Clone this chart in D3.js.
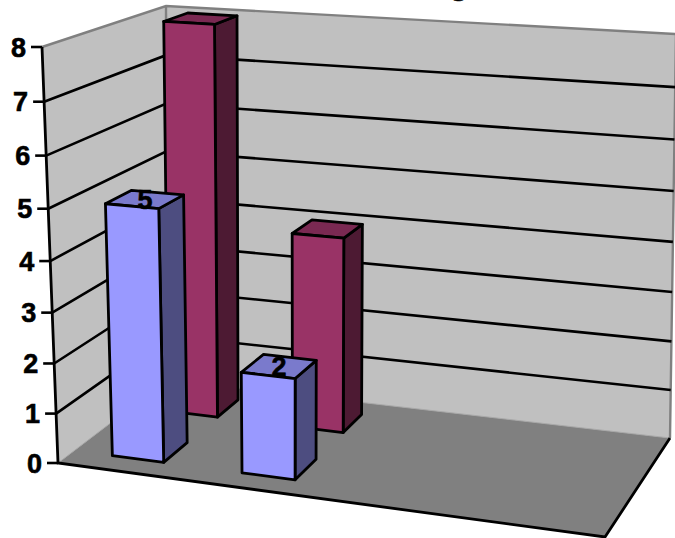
<!DOCTYPE html>
<html>
<head>
<meta charset="utf-8">
<style>
  html, body { margin: 0; padding: 0; background: #fff; overflow: hidden; }
  svg { display: block; }
  text { font-family: "Liberation Sans", Arial, sans-serif; font-weight: bold; fill: #000; stroke: #000; stroke-width: 0.6; }
</style>
<script src="https://cdnjs.cloudflare.com/ajax/libs/d3/7.8.5/d3.min.js"></script>
</head>
<body>
<div id="chart"></div>
<script>
// Data. The category names are not shown in the chart.
const categories = ['c1', 'c2', 'c3', 'c4'];
const seriesNames = ['front', 'back'];
const frontValues = [5, 2, null, null];
const backValues = [8, 4, null, null];
const valueTicks = [0, 1, 2, 3, 4, 5, 6, 7, 8];

const WIDTH = 675, HEIGHT = 538;

// Screen position of the eight corners of the plot box: [across, depth, up]
const CORNERS = {
  '000': [58, 463], '100': [605, 537], '010': [167, 380], '110': [670, 438],
  '001': [42, 47],  '101': [628, 87],  '011': [166, 6],   '111': [676, 34]
};

// Foreshortening along each box axis
const PERSP = { x: 1.07, z: 0.88, y: 1.06 };
const warp = (t, k) => t / (t + (1 - t) * k);

const xBand = d3.scaleBand().domain(categories).range([0, 1]).paddingInner(0.6).paddingOuter(0.3);
const zBand = d3.scaleBand().domain(seriesNames).range([0, 1]).paddingInner(0.58).paddingOuter(0.26);
const yScale = d3.scaleLinear().domain([0, 8]).range([0, 1]);

// Box coordinates (each 0..1, already warped) to screen
function corner(u, w, t) {
  const lerp = (a, b, f) => [a[0] + (b[0] - a[0]) * f, a[1] + (b[1] - a[1]) * f];
  const c = k => CORNERS[k];
  const floor = lerp(lerp(c('000'), c('100'), u), lerp(c('010'), c('110'), u), w);
  const top = lerp(lerp(c('001'), c('101'), u), lerp(c('011'), c('111'), u), w);
  return lerp(floor, top, t);
}

// Scale positions to screen
const project = (x, z, value) =>
  corner(warp(x, PERSP.x), warp(z, PERSP.z), warp(yScale(value), PERSP.y));

const svg = d3.select('#chart').append('svg')
  .attr('width', WIDTH)
  .attr('height', HEIGHT)
  .attr('role', 'img')
  .attr('aria-label', '3D column chart');

const line = d3.line();
const closed = pts => line(pts) + 'Z';
const maxV = yScale.domain()[1];

// Only the tail of the title's descender shows at the top edge
svg.append('text')
  .attr('x', 459).attr('y', -5)
  .attr('text-anchor', 'middle').attr('font-size', 30)
  .text('g');

// Walls and floor
svg.append('path')
  .attr('d', closed([project(0, 0, 0), project(0, 1, 0), project(0, 1, maxV), project(0, 0, maxV)]))
  .attr('fill', '#c0c0c0');
svg.append('path')
  .attr('d', closed([project(0, 1, 0), project(1, 1, 0), project(1, 1, maxV), project(0, 1, maxV)]))
  .attr('fill', '#c0c0c0');
svg.append('path')
  .attr('d', closed([project(0, 0, 0), project(1, 0, 0), project(1, 1, 0), project(0, 1, 0)]))
  .attr('fill', '#808080');

// Grey wall outline
svg.append('path')
  .attr('d', line([project(0, 0, maxV), project(0, 1, maxV), project(1, 1, maxV), project(1, 1, 0)]))
  .attr('fill', 'none').attr('stroke', '#808080').attr('stroke-width', 2.4);
svg.append('path')
  .attr('d', line([project(0, 1, 0), project(0, 1, maxV)]))
  .attr('fill', 'none').attr('stroke', '#808080').attr('stroke-width', 2.4);
svg.append('path')
  .attr('d', line([project(0, 0, 0), project(0, 1, 0), project(1, 1, 0)]))
  .attr('fill', 'none').attr('stroke', '#a8a8a8').attr('stroke-width', 1);

// Gridlines on both walls
svg.append('g').selectAll('path')
  .data(valueTicks.filter(v => v > 0 && v < maxV))
  .join('path')
  .attr('d', v => line([project(0, 0, v), project(0, 1, v), project(1, 1, v)]))
  .attr('fill', 'none').attr('stroke', '#000').attr('stroke-width', 2.6);

// Front floor edges and value axis
svg.append('path')
  .attr('d', line([project(0, 0, maxV), project(0, 0, 0), project(1, 0, 0), project(1, 1, 0)]))
  .attr('fill', 'none').attr('stroke', '#000').attr('stroke-width', 2.8);

// Ticks and labels
const tick = svg.append('g').selectAll('g')
  .data(valueTicks)
  .join('g')
  .attr('transform', v => `translate(${project(0, 0, v)})`);
tick.append('line').attr('x1', -11).attr('x2', 0).attr('stroke', '#000').attr('stroke-width', 2.6);
tick.append('text')
  .attr('x', -16).attr('dy', '0.36em')
  .attr('text-anchor', 'end').attr('font-size', 27)
  .text(v => v);

// Columns: back row first so the front row covers it
const rows = [
  { name: 'back', values: backValues, front: '#993366', side: '#4d1a33', top: '#7a2952', labels: false },
  { name: 'front', values: frontValues, front: '#9999ff', side: '#4d4d80', top: '#7a7acc', labels: true }
];

function drawBar(g, row, cat, value) {
  const x0 = xBand(cat), x1 = x0 + xBand.bandwidth();
  const z0 = zBand(row.name), z1 = z0 + zBand.bandwidth();
  const faces = [
    { fill: row.side, pts: [project(x1, z0, 0), project(x1, z1, 0), project(x1, z1, value), project(x1, z0, value)] },
    { fill: row.top, pts: [project(x0, z0, value), project(x1, z0, value), project(x1, z1, value), project(x0, z1, value)] },
    { fill: row.front, pts: [project(x0, z0, 0), project(x1, z0, 0), project(x1, z0, value), project(x0, z0, value)] }
  ];
  g.selectAll('path')
    .data(faces)
    .join('path')
    .attr('d', d => closed(d.pts))
    .attr('fill', d => d.fill)
    .attr('stroke', '#000').attr('stroke-width', 2.8)
    .attr('stroke-linejoin', 'round');
}

rows.forEach(row => {
  categories.forEach((cat, i) => {
    const value = row.values[i];
    if (value === null) return;
    drawBar(svg.append('g'), row, cat, value);
  });
});

// Value labels sit on the top face of the columns
rows.filter(r => r.labels).forEach(row => {
  categories.forEach((cat, i) => {
    const value = row.values[i];
    if (value === null) return;
    const [lx, ly] = project(xBand(cat) + xBand.bandwidth() / 2,
      zBand(row.name) + zBand.bandwidth() / 2, value);
    svg.append('text')
      .attr('x', lx).attr('y', ly).attr('dy', '0.36em')
      .attr('text-anchor', 'middle').attr('font-size', 27)
      .text(value);
  });
});
</script>
</body>
</html>
